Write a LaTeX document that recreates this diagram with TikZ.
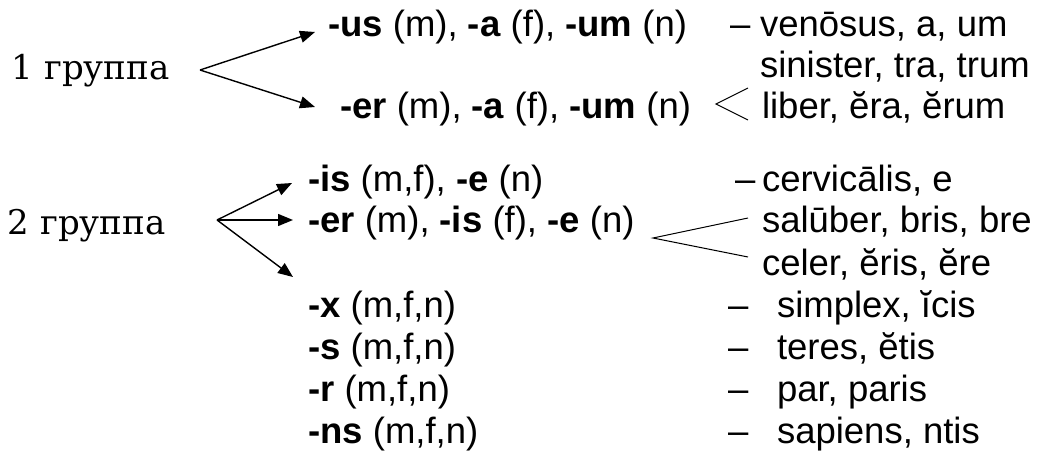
\documentclass[tikz,border=0pt]{standalone}
\usepackage{fontspec}
\setmainfont{Liberation Sans}
\newfontfamily\serifru{DejaVu Serif}
\usetikzlibrary{arrows.meta}
\tikzset{
  txt/.style={anchor=base west, inner sep=0pt, outer sep=0pt, font=\fontsize{36.5}{40}\selectfont},
  grp/.style={anchor=base west, inner sep=0pt, outer sep=0pt, font=\serifru\fontsize{34}{38}\selectfont},
  arr/.style={line width=1.4pt, -{Triangle[length=15pt,width=12pt]}},
  brace/.style={line width=1pt}
}
\begin{document}
\begin{tikzpicture}[x=1pt,y=-1pt]
\useasboundingbox (0,0) rectangle (1043,454);
% group 1
\node[grp] (g1) at (12,80) {1 группа};
\coordinate (a1) at (200,70);
\coordinate (t11) at (315,32);
\coordinate (t12) at (315,107);
\draw[arr] (a1) -- (t11);
\draw[arr] (a1) -- (t12);
\node[txt] (r1) at (328,37) {\textbf{-us} (m), \textbf{-a} (f), \textbf{-um} (n)};
\node[txt] (d1) at (730,37) {–};
\node[txt] (w1) at (760,37) {venōsus, a, um};
\node[txt] (w2) at (760,78) {sinister, tra, trum};
\node[txt] (r2) at (340,119) {\textbf{-er} (m), \textbf{-a} (f), \textbf{-um} (n)};
\node[txt] (w3) at (762,119) {liber, ĕra, ĕrum};
\coordinate (l1a) at (748,88);
\coordinate (l1b) at (716,104);
\coordinate (l1c) at (748,120);
\draw[brace] (l1a) -- (l1b) -- (l1c);
% group 2
\node[grp] (g2) at (8,235) {2 группа};
\coordinate (a2) at (217,220);
\coordinate (t21) at (292,183);
\coordinate (t22) at (293,220);
\coordinate (t23) at (293,277);
\draw[arr] (a2) -- (t21);
\draw[arr] (a2) -- (t22);
\draw[arr] (a2) -- (t23);
\node[txt] (s1) at (308,192) {\textbf{-is} (m,f), \textbf{-e} (n)};
\node[txt] (d2) at (735,192) {–};
\node[txt] (v1) at (762,192) {cervicālis, e};
\node[txt] (s2) at (308,233) {\textbf{-er} (m), \textbf{-is} (f), \textbf{-e} (n)};
\node[txt] (v2) at (762,233) {salūber, bris, bre};
\node[txt] (v3) at (762,275) {celer, ĕris, ĕre};
\coordinate (l2a) at (748,218);
\coordinate (l2b) at (653,238);
\coordinate (l2c) at (748,257);
\draw[brace] (l2a) -- (l2b) -- (l2c);
\node[txt] (s3) at (308,317) {\textbf{-x} (m,f,n)};
\node[txt] (d3) at (728,317) {–};
\node[txt] (v4) at (777,317) {simplex, ĭcis};
\node[txt] (s4) at (308,359) {\textbf{-s} (m,f,n)};
\node[txt] (d4) at (728,359) {–};
\node[txt] (v5) at (777,359) {teres, ĕtis};
\node[txt] (s5) at (308,401) {\textbf{-r} (m,f,n)};
\node[txt] (d5) at (728,401) {–};
\node[txt] (v6) at (777,401) {par, paris};
\node[txt] (s6) at (308,443) {\textbf{-ns} (m,f,n)};
\node[txt] (d6) at (728,443) {–};
\node[txt] (v7) at (777,443) {sapiens, ntis};
\end{tikzpicture}
\end{document}
